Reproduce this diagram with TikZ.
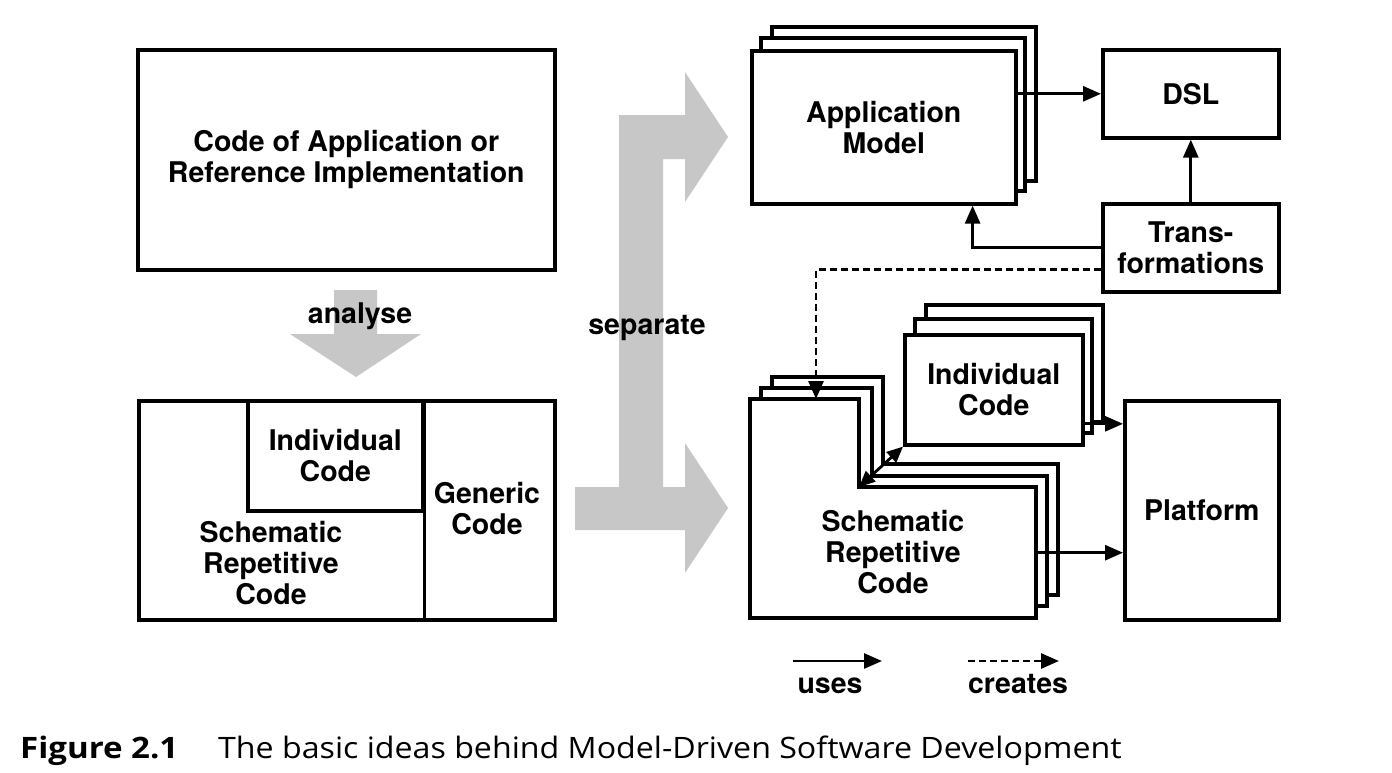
\documentclass[tikz,border=0pt]{standalone}
\usepackage{fontspec}
\setmainfont{TeX Gyre Heros}
\newfontfamily\capfont[FakeStretch=1.09, BoldFeatures={FakeStretch=1.12}]{Open Sans}
\usetikzlibrary{arrows.meta,calc}
\definecolor{arrowgray}{RGB}{199,199,199}
\begin{document}
\begin{tikzpicture}[x=1pt,y=-1pt,
  boxline/.style={draw, line width=3.6pt, fill=white},
  box/.style={boxline, inner sep=0pt, anchor=north west, align=center,
    font=\fontsize{28.5}{31}\selectfont\bfseries},
  lbl/.style={font=\fontsize{28.5}{31}\selectfont\bfseries, align=center, inner sep=0pt},
  conn/.style={line width=2.8pt, -{Triangle[length=18pt,width=15pt]}},
  dconn/.style={line width=2.8pt, {Triangle[length=16pt,width=14pt]}-{Triangle[length=16pt,width=14pt]}},
  dashconn/.style={conn, dash pattern=on 7pt off 4pt},
  bigarrow/.style={fill=arrowgray, draw=none}]
\useasboundingbox (0,0) rectangle (1392,772);
\fill[white] (0,0) rectangle (1392,772);

% ---------- left column ----------
\node[box, minimum width=417pt, minimum height=220pt] (code) at (136,48)
  {Code of Application or\\Reference Implementation};

\fill[bigarrow] (334,290) -- (377,290) -- (377,334) -- (421,334) -- (356,377)
  -- (290,334) -- (334,334) -- cycle;
\node[lbl, anchor=base] (analyse) at (360,323) {analyse};

\node[boxline, inner sep=0pt, anchor=north west, minimum width=416pt, minimum height=219pt] (mixed) at (137,399) {};
\node[box, minimum width=175pt, minimum height=110pt] (lindiv) at (246,399) {Individual\\Code};
\draw[line width=3.6pt] (mixed.north west -| lindiv.north east) -- (mixed.south west -| lindiv.north east);
\node[lbl] (lgeneric) at (487,509) {Generic\\Code};
\node[lbl] (lschem) at (271,563) {Schematic\\Repetitive\\Code};

% ---------- separate arrow ----------
\fill[bigarrow] (575,487) -- (619,487) -- (619,115) -- (685,115) -- (685,72)
  -- (728,137) -- (685,202) -- (685,159) -- (663,159) -- (663,487)
  -- (685,487) -- (685,443) -- (728,508) -- (685,573) -- (685,530)
  -- (575,530) -- cycle;
\node[lbl] (separate) at (647,328) {separate};

% ---------- application model stack ----------
\draw[boxline] (772,27) rectangle (1036,181);
\draw[boxline] (761,38) rectangle (1025,191);
\node[box, minimum width=264pt, minimum height=153pt] (app) at (750,49) {Application\\Model};

\node[box, minimum width=176pt, minimum height=88pt] (dsl) at (1101,48) {DSL};
\node[box, minimum width=176pt, minimum height=88pt] (trans) at (1101,202) {Trans-\\formations};

% ---------- individual code stack ----------
\draw[boxline] (926,305) rectangle (1103,422);
\draw[boxline] (915,319) rectangle (1092,433);
\node[box, minimum width=178pt, minimum height=110pt] (indiv) at (903,333) {Individual\\Code};

% ---------- schematic stack ----------
\draw[boxline] (772,377) -- (883,377) -- (883,464) -- (1058,464) -- (1058,595) -- (772,595) -- cycle;
\draw[boxline] (761,388) -- (872,388) -- (872,476) -- (1047,476) -- (1047,606) -- (761,606) -- cycle;
\draw[boxline] (750,399) -- (859,399) -- (859,487) -- (1036,487) -- (1036,618) -- (750,618) -- cycle;
\node[inner sep=0pt, minimum width=286pt, minimum height=219pt, anchor=north west] (schem) at (750,399) {};
\coordinate (schemstep) at (859,487);
\node[lbl] (schemtext) at (893,552) {Schematic\\Repetitive\\Code};

\node[box, minimum width=154pt, minimum height=219pt] (platform) at (1123,399) {Platform};

% ---------- connectors ----------
\draw[conn] (app.east |- dsl.west) -- (dsl.west);
\draw[conn] (trans.north) -- (dsl.south);
\coordinate (appin) at ($(app.south east)+(-45,0)$);
\draw[conn] (trans.west) -| (appin);
\coordinate (schemin) at ($(schem.north west)+(66,0)$);
\draw[dashconn] ([yshift=-22pt]trans.west) -| (schemin);
\draw[dconn] (schemstep) -- (indiv.south west);
\coordinate (indivout) at ([yshift=-34pt]indiv.east);
\draw[conn] (indivout) -- (platform.west |- indivout);
\coordinate (schemout) at ([yshift=-44pt]schem.east);
\draw[conn] (schemout) -- (platform.west |- schemout);

% ---------- legend ----------
\coordinate (usesA) at (793,661);
\coordinate (usesB) at (882,661);
\draw[conn] (usesA) -- (usesB);
\node[lbl, anchor=base] (uses) at (830,693) {uses};
\coordinate (createsA) at (968,661);
\coordinate (createsB) at (1059,661);
\draw[dashconn] (createsA) -- (createsB);
\node[lbl, anchor=base] (creates) at (1018,693) {creates};

% ---------- caption ----------
\node[anchor=base west, inner sep=0pt, font=\capfont\bfseries\fontsize{29.5}{32}\selectfont] (capnum) at (20,758) {Figure 2.1};
\node[anchor=base west, inner sep=0pt, font=\capfont\fontsize{29.5}{32}\selectfont] (captext) at (218,758) {The basic ideas behind Model-Driven Software Development};
\end{tikzpicture}
\end{document}
